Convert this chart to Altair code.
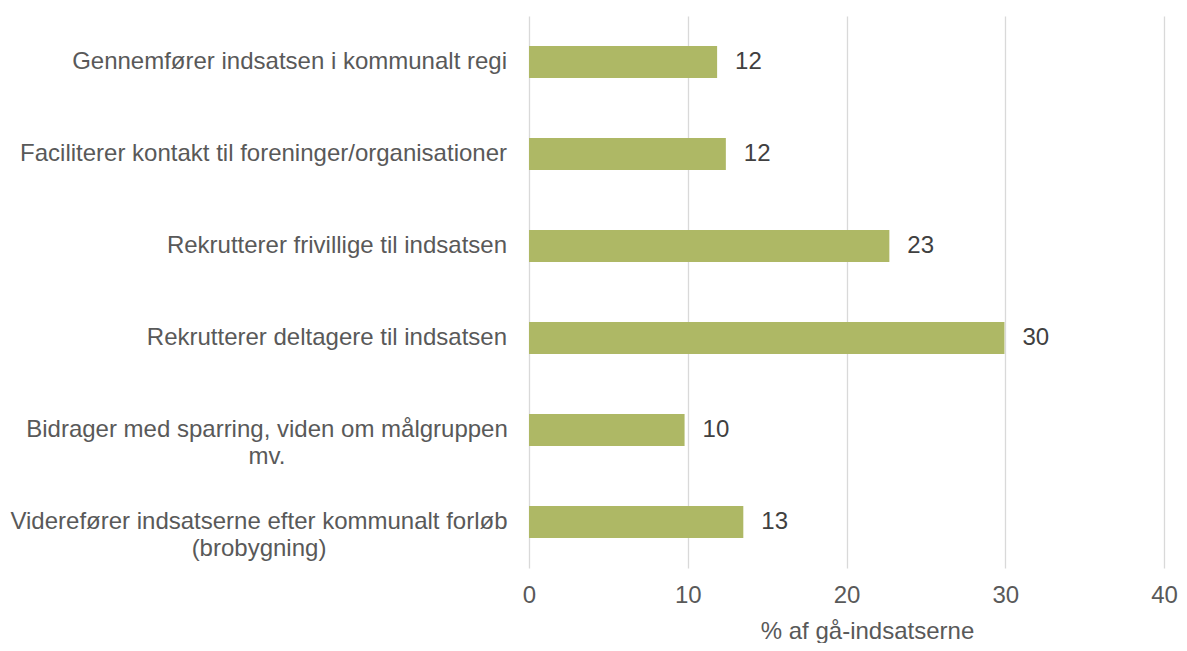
import altair as alt
import pandas as pd

categories = [
    "Gennemfører indsatsen i kommunalt regi",
    "Faciliterer kontakt til foreninger/organisationer",
    "Rekrutterer frivillige til indsatsen",
    "Rekrutterer deltagere til indsatsen",
    "Bidrager med sparring, viden om målgruppen mv.",
    "Viderefører indsatserne efter kommunalt forløb (brobygning)",
]
category_lines = [
    ["Gennemfører indsatsen i kommunalt regi"],
    ["Faciliterer kontakt til foreninger/organisationer"],
    ["Rekrutterer frivillige til indsatsen"],
    ["Rekrutterer deltagere til indsatsen"],
    ["Bidrager med sparring, viden om målgruppen", "mv."],
    ["Viderefører indsatserne efter kommunalt forløb", "(brobygning)"],
]
values = [11.85, 12.4, 22.7, 29.95, 9.8, 13.5]
value_labels = ["12", "12", "23", "30", "10", "13"]
x_ticks = [0, 10, 20, 30, 40]

df = pd.DataFrame({
    "cat": categories,
    "lines": category_lines,
    "val": values,
    "lab": value_labels,
    "multi": [len(l) > 1 for l in category_lines],
    "wide": [len(l) > 1 and l[0].startswith("Videre") for l in category_lines],
})

TXT = "#595959"
FONT = "Liberation Sans"
FS = 24

y_enc = alt.Y("cat:N", sort=categories, axis=None,
              scale=alt.Scale(paddingInner=0.65, paddingOuter=0.325))

base = alt.Chart(df)

bars = base.mark_bar(color="#AEB865").encode(
    x=alt.X("val:Q", scale=alt.Scale(domain=[0, 40]),
            axis=alt.Axis(values=x_ticks, grid=True, gridColor="#d9d9d9", gridWidth=1.3,
                          domain=False, ticks=False, labelFontSize=FS, labelColor=TXT,
                          labelFont=FONT, labelPadding=15, labelFlush=False,
                          title="% af gå-indsatserne", titleFontSize=FS, titleFontWeight="normal",
                          titleColor=TXT, titleFont=FONT, titlePadding=12, titleX=338)),
    y=y_enc,
)

vlabels = base.mark_text(align="left", baseline="middle", dx=18, fontSize=FS,
                         color="#404040", font=FONT).encode(
    x="val:Q", y=y_enc, text="lab:N")

single = base.transform_filter("!datum.multi").mark_text(
    align="right", baseline="middle", fontSize=FS, color=TXT, font=FONT).encode(
    x=alt.value(-22), y=y_enc, text="lines:N")

multi1 = base.transform_filter("datum.multi && !datum.wide").mark_text(
    align="center", baseline="middle", fontSize=FS, color=TXT, font=FONT, lineHeight=27).encode(
    x=alt.value(-262), y=y_enc, text="lines:N")

multi2 = base.transform_filter("datum.wide").mark_text(
    align="center", baseline="middle", fontSize=FS, color=TXT, font=FONT, lineHeight=27).encode(
    x=alt.value(-270), y=y_enc, text="lines:N")

chart = alt.layer(bars, vlabels, single, multi1, multi2).properties(
    width=635, height=552,
    padding={"left": 2, "top": 8, "right": 0, "bottom": 0},
).configure(background="white").configure_view(stroke=None)

chart.save("out.html", embed_options={"renderer": "svg", "actions": False})
